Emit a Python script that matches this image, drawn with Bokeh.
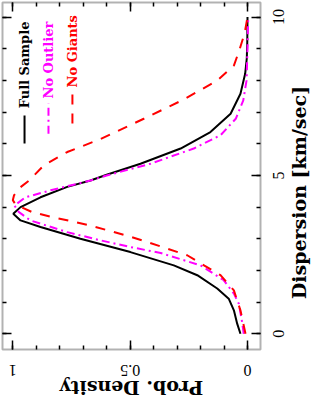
import math
from bokeh.plotting import figure
from bokeh.models import Range1d, FixedTicker, LinearAxis, Label, Arrow, BoxAnnotation, ColumnDataSource
from bokeh.embed import file_html
from bokeh.resources import INLINE

# ---- data (dispersion in km/sec, normalised probability density) ----
full_disp = [0, 0.32, 0.74, 1.11, 1.43, 1.85, 2.16, 2.58, 3.0, 3.37, 3.58, 3.79, 4.0,
             4.31, 4.64, 4.84, 5.02, 5.37, 5.85, 6.37, 6.95, 7.58, 8.21, 8.7, 9.2, 10]
full_dens = [0.030, 0.044, 0.058, 0.080, 0.129, 0.214, 0.314, 0.499, 0.712, 0.882, 0.967, 0.998, 0.967,
             0.882, 0.768, 0.669, 0.60, 0.456, 0.285, 0.158, 0.072, 0.030, 0.010, 0.003, 0.001, 0.0]

noout_disp = [0, 0.37, 0.95, 1.27, 1.69, 2.16, 2.55, 2.74, 2.95, 3.21, 3.58, 3.85, 4.05,
              4.31, 4.53, 4.84, 5.0, 5.37, 5.85, 6.27, 6.79, 7.37, 8.0, 9.0, 10]
noout_dens = [0.016, 0.023, 0.037, 0.058, 0.101, 0.20, 0.37, 0.499, 0.626, 0.768, 0.925, 0.975, 0.993,
              0.946, 0.839, 0.669, 0.60, 0.413, 0.229, 0.115, 0.05, 0.018, 0.004, 0.0, -0.003]

nogiant_disp = [0, 0.74, 1.37, 1.85, 2.48, 2.9, 3.07, 3.42, 3.70, 3.84, 4.08, 4.22, 4.37,
                4.63, 4.84, 5.32, 5.74, 6.15, 6.79, 7.4, 8.0, 8.47, 8.95, 9.5, 10]
nogiant_dens = [0.0085, 0.030, 0.058, 0.115, 0.257, 0.427, 0.50, 0.67, 0.84, 0.917, 0.988, 1.0, 0.995,
                0.967, 0.93, 0.868, 0.768, 0.626, 0.442, 0.271, 0.129, 0.058, 0.035, 0.012, 0.0]

series_names = ["Full Sample", "No Outlier", "No Giants"]

dens_ticks = [0, 0.5, 1]
dens_tick_labels = ["0", "0.5", "1"]
dens_minor = [0, 0.1, 0.2, 0.3, 0.4, 0.5, 0.6, 0.7, 0.8, 0.9, 1.0]
disp_ticks = [0, 5, 10]
disp_tick_labels = ["0", "5", "10"]
disp_minor = [0, 1, 2, 3, 4, 5, 6, 7, 8, 9, 10]

x_title = "Prob. Density"
y_title = "Dispersion [km/sec]"

# ---- layout (the chart is drawn rotated by 90 degrees, as in the reference) ----
W, H = 311, 400
BOX_L, BOX_R, BOX_T, BOX_B = 2, 260, 2, 349      # canvas px of the plot box
X_AT_L, X_AT_R = 1.0439, -0.0554                  # density at box left / right
Y_AT_B, Y_AT_T = -0.496, 10.461                   # dispersion at box bottom / top


def xv(u):
    return X_AT_L + (u - BOX_L) * (X_AT_R - X_AT_L) / (BOX_R - BOX_L)


def yv(v):
    return Y_AT_B + (BOX_B - v) * (Y_AT_T - Y_AT_B) / (BOX_B - BOX_T)


colors = ["black", "#ff00ff", "#ff0000"]
dashes = ["solid", "8 4 2 4", "10 9"]
SERIF = "DejaVu Serif"

p = figure(width=W, height=H,
           x_range=Range1d(xv(0), xv(W)), y_range=Range1d(yv(H), yv(0)),
           output_backend="svg", toolbar_location=None,
           x_axis_location=None, y_axis_location=None,
           min_border=0, min_border_left=0, min_border_right=0,
           min_border_top=0, min_border_bottom=0)
p.xgrid.visible = False
p.ygrid.visible = False
p.outline_line_color = None
p.background_fill_color = "white"
p.border_fill_color = "white"

# plot box
p.add_layout(BoxAnnotation(left=X_AT_L, right=X_AT_R, bottom=Y_AT_B, top=Y_AT_T,
                           fill_alpha=0, line_color="black", line_width=2))


def tick_axis(ticks, minor, loc):
    ax = LinearAxis(fixed_location=loc, ticker=FixedTicker(ticks=ticks, minor_ticks=minor))
    ax.axis_line_color = None
    ax.major_tick_in = 9
    ax.major_tick_out = 0
    ax.minor_tick_in = 4
    ax.minor_tick_out = 0
    ax.major_tick_line_width = 1.5
    ax.minor_tick_line_width = 1.5
    ax.major_tick_line_color = "black"
    ax.minor_tick_line_color = "black"
    ax.major_label_text_font_size = "0px"
    ax.major_label_text_color = None
    ax.major_label_standoff = 0
    return ax


p.add_layout(tick_axis(dens_ticks, dens_minor, Y_AT_B), "below")
p.add_layout(tick_axis(dens_ticks, dens_minor, Y_AT_T), "above")
p.add_layout(tick_axis(disp_ticks, disp_minor, X_AT_R), "right")
p.add_layout(tick_axis(disp_ticks, disp_minor, X_AT_L), "left")

# tick labels (rotated like the reference)
disp_lab = ColumnDataSource(dict(x=[xv(BOX_R + 17.5)] * len(disp_ticks), y=disp_ticks, t=disp_tick_labels))
r1 = p.text(x="x", y="y", text="t", source=disp_lab, angle=math.pi / 2,
            text_align="center", text_baseline="middle", text_font_size="16px", text_color="black")
r1.glyph.text_font = SERIF

dens_lab = ColumnDataSource(dict(x=dens_ticks, y=[yv(BOX_B + 21)] * len(dens_ticks), t=dens_tick_labels))
r2 = p.text(x="x", y="y", text="t", source=dens_lab, angle=math.pi,
            text_align="center", text_baseline="middle", text_font_size="16px", text_color="black")
r2.glyph.text_font = SERIF

# ---- curves ----
p.line(full_dens, full_disp, line_color=colors[0], line_width=2, line_dash=dashes[0])
p.line(noout_dens, noout_disp, line_color=colors[1], line_width=2, line_dash=dashes[1])
p.line(nogiant_dens, nogiant_disp, line_color=colors[2], line_width=2, line_dash=dashes[2])

# ---- rotated legend ----
leg_x = [0.950, 0.848, 0.746]
leg_line_start = [6.01, 6.32, 6.64]
leg_line_end = [6.89, 7.27, 7.62]
leg_text_start = [7.12, 7.43, 7.78]
for i in range(3):
    p.add_layout(Arrow(end=None, x_start=leg_x[i], y_start=leg_line_start[i],
                       x_end=leg_x[i], y_end=leg_line_end[i],
                       line_color=colors[i], line_width=2, line_dash=dashes[i]))
    p.add_layout(Label(x=leg_x[i], y=leg_text_start[i], text=series_names[i],
                       angle=math.pi / 2, text_align="left", text_baseline="middle",
                       text_font=SERIF, text_font_style="bold", text_font_size="13px",
                       text_color=colors[i]))

# ---- axis titles ----
p.add_layout(Label(x=xv(BOX_R + 38.5), y=yv(192), text=y_title, angle=math.pi / 2,
                   text_align="center", text_baseline="middle",
                   text_font=SERIF, text_font_style="bold", text_font_size="19px",
                   text_color="black"))
p.add_layout(Label(x=xv((BOX_L + BOX_R) / 2), y=yv(BOX_B + 38), text=x_title, angle=math.pi,
                   text_align="center", text_baseline="middle",
                   text_font=SERIF, text_font_style="bold", text_font_size="19px",
                   text_color="black"))

open("out.html", "w").write(file_html(p, INLINE))
